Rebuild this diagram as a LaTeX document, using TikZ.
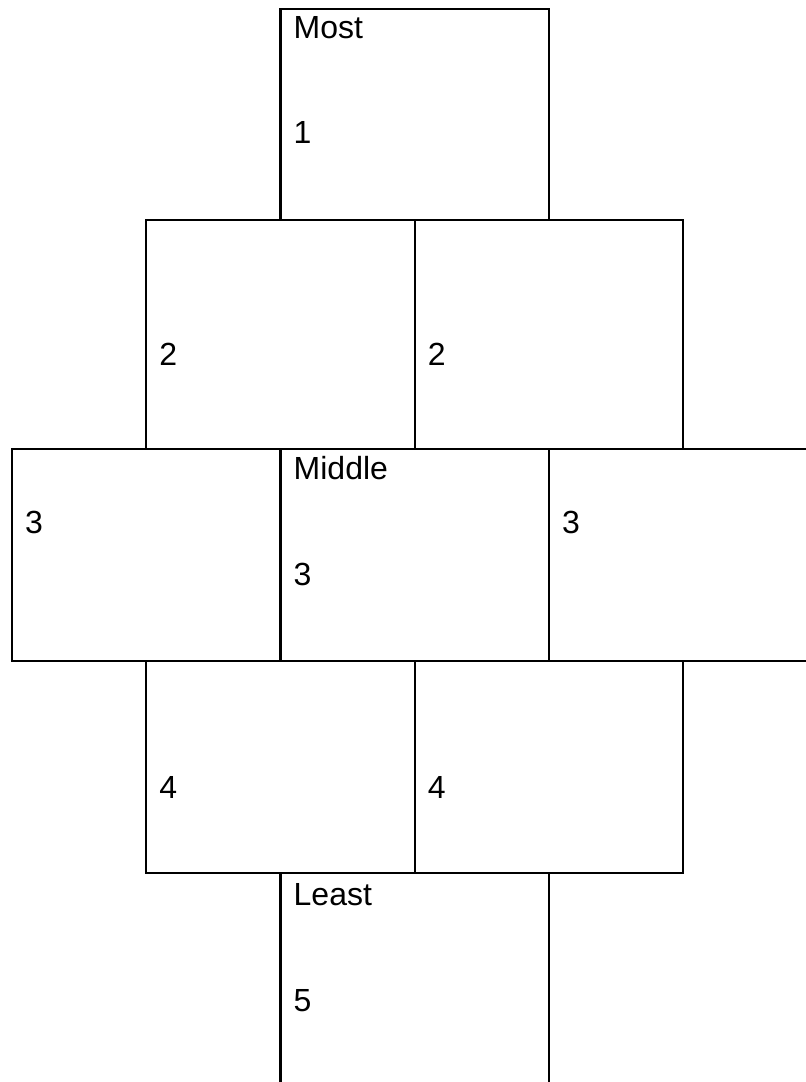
\documentclass[tikz,border=0pt]{standalone}
\usepackage{fontspec}
\setmainfont{Liberation Sans}
\usetikzlibrary{positioning}
\tikzset{
    cell/.style={
        draw=black,line width=2.2pt,anchor=north west,
        minimum width=268.5pt,minimum height=#1,
        inner sep=0pt,outer sep=0pt
    },
    cell/.default=212pt,
    tag/.style={
        anchor=base west,inner sep=0pt,
        font=\fontsize{32}{38}\selectfont
    }
}

\begin{document}
\begin{tikzpicture}[x=1pt,y=-1pt]

\clip (0,0) rectangle (806,1082);

% row 1
\node[cell=211pt] (top) at (280.5,9) {};

% row 2
\node[cell=229pt] (upl) at (146.25,220) {};
\node[cell=229pt] (upr) at (414.75,220) {};

% row 3
\node[cell] (midl) at (12,449) {};
\node[cell] (mid) at (280.5,449) {};
\node[cell] (midr) at (549,449) {};

% row 4
\node[cell] (lowl) at (146.25,661) {};
\node[cell] (lowr) at (414.75,661) {};

% row 5, runs off the page
\node[cell=230pt] (bot) at (280.5,873) {};

% labels
\node[tag] (most) at ([shift={(13,29)}]top.north west) {Most};
\node[tag] (one) at ([shift={(13,134)}]top.north west) {1};

\node[tag] (twol) at ([shift={(13,145)}]upl.north west) {2};
\node[tag] (twor) at ([shift={(13,145)}]upr.north west) {2};

\node[tag] (threel) at ([shift={(13,84)}]midl.north west) {3};
\node[tag] (middle) at ([shift={(13,30)}]mid.north west) {Middle};
\node[tag] (three) at ([shift={(13,136)}]mid.north west) {3};
\node[tag] (threer) at ([shift={(13,84)}]midr.north west) {3};

\node[tag] (fourl) at ([shift={(13,137)}]lowl.north west) {4};
\node[tag] (fourr) at ([shift={(13,137)}]lowr.north west) {4};

\node[tag] (least) at ([shift={(13,32)}]bot.north west) {Least};
\node[tag] (five) at ([shift={(13,138)}]bot.north west) {5};

\end{tikzpicture}
\end{document}
